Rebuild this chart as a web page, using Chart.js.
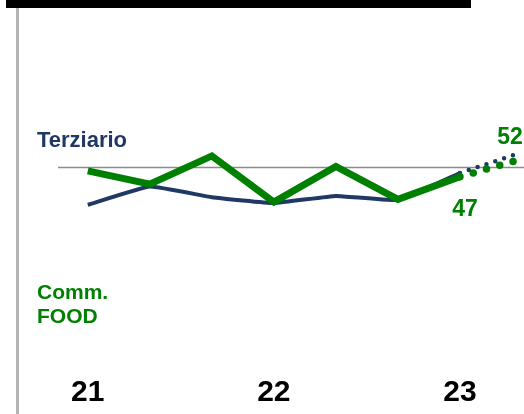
<!DOCTYPE html>
<html>
<head>
<meta charset="utf-8">
<script src="https://cdn.jsdelivr.net/npm/chart.js@4.4.1/dist/chart.umd.min.js"></script>
<style>
  html, body { margin: 0; padding: 0; background: #fff; }
  #wrap { position: relative; width: 524px; height: 414px; overflow: hidden; }
  #chart { position: absolute; left: 0; top: 0; }
  #topbar { position: absolute; left: 6px; top: 0; width: 465px; height: 8px; background: #000; }
  #leftline { position: absolute; left: 16px; top: 8px; width: 3px; height: 406px; background: #b4b4b4; }
</style>
</head>
<body>
<div id="wrap">
  <canvas id="chart" width="524" height="414"></canvas>
  <div id="topbar"></div>
  <div id="leftline"></div>
</div>
<script>
// periodi (quadrimestri): 0 = inizio 21, 3 = 22, 6 = 23
var periodi = [0, 1, 2, 3, 4, 5, 6];
var terziario = [37.9, 43.8, 40.4, 38.5, 40.8, 39.5, 48.2];
var commFood = [48.9, 44.6, 53.7, 38.8, 50.3, 39.7, 47];

// previsione (linea a puntini)
var periodiPrev = [6, 6.87];
var terziarioPrev = [48.2, 54];
var commFoodPrev = [47, 52];

// etichette asse x
var tickAnni = [0, 3, 6];
var etichetteAnni = ['21', '22', '23'];

var soglia = 50;

var BLU = '#1f3864';
var VERDE = '#008000';

function punti(xs, ys) {
  return xs.map(function (x, i) { return { x: x, y: ys[i] }; });
}

// linea di soglia e testi
var decorazioni = {
  id: 'decorazioni',
  beforeDatasetsDraw: function (chart) {
    var ctx = chart.ctx;
    var y = chart.scales.y.getPixelForValue(soglia);
    ctx.save();
    ctx.strokeStyle = '#8c8c8c';
    ctx.lineWidth = 1.5;
    ctx.beginPath();
    ctx.moveTo(chart.chartArea.left, y);
    ctx.lineTo(chart.width, y);
    ctx.stroke();
    ctx.restore();
  },
  afterDatasetsDraw: function (chart) {
    var ctx = chart.ctx;
    var sx = chart.scales.x, sy = chart.scales.y;
    ctx.save();
    ctx.textBaseline = 'alphabetic';
    ctx.textAlign = 'left';
    ctx.font = 'bold 22px "Liberation Sans", Arial, sans-serif';
    ctx.fillStyle = BLU;
    ctx.fillText('Terziario', 37, 147);
    ctx.font = 'bold 21px "Liberation Sans", Arial, sans-serif';
    ctx.fillStyle = VERDE;
    ctx.fillText('Comm.', 37, 299);
    ctx.fillText('FOOD', 37, 323);

    ctx.font = 'bold 23px "Liberation Sans", Arial, sans-serif';
    ctx.textAlign = 'center';
    var nUlt = commFood.length - 1;
    var xa = sx.getPixelForValue(periodi[nUlt]);
    var ya = sy.getPixelForValue(commFood[nUlt]);
    ctx.fillText(String(Math.round(commFood[nUlt])), xa + 5, ya + 39);
    var nPrev = commFoodPrev.length - 1;
    var xb = sx.getPixelForValue(periodiPrev[nPrev]);
    var yb = sy.getPixelForValue(commFoodPrev[nPrev]);
    ctx.fillText(String(Math.round(commFoodPrev[nPrev])), xb - 4, yb - 17);
    ctx.restore();
  }
};

new Chart(document.getElementById('chart').getContext('2d'), {
  type: 'line',
  data: {
    datasets: [
      {
        label: 'Comm. FOOD',
        data: punti(periodi, commFood),
        borderColor: VERDE,
        borderWidth: 7,
        borderJoinStyle: 'miter',
        tension: 0,
        pointRadius: 0
      },
      {
        label: 'Comm. FOOD prev',
        data: punti(periodiPrev, commFoodPrev),
        borderColor: VERDE,
        borderWidth: 7.5,
        borderDash: [0, 13.8],
        borderCapStyle: 'round',
        pointRadius: 0
      },
      {
        label: 'Terziario',
        data: punti(periodi, terziario),
        borderColor: BLU,
        borderWidth: 4,
        tension: 0.1,
        pointRadius: 0
      },
      {
        label: 'Terziario prev',
        data: punti(periodiPrev, terziarioPrev),
        borderColor: BLU,
        borderWidth: 4.5,
        borderDash: [0, 9.3],
        borderCapStyle: 'round',
        pointRadius: 0
      }
    ]
  },
  options: {
    responsive: false,
    animation: false,
    layout: { padding: { left: 58, right: 2, top: 0, bottom: 0 } },
    plugins: {
      legend: { display: false },
      tooltip: { enabled: false }
    },
    scales: {
      x: {
        type: 'linear',
        min: -0.48,
        max: 7,
        afterBuildTicks: function (axis) {
          axis.ticks = tickAnni.map(function (v) { return { value: v }; });
        },
        ticks: {
          autoSkip: false,
          maxRotation: 0,
          padding: 3,
          color: '#000',
          font: { family: '"Liberation Sans", Arial, sans-serif', size: 30, weight: 'bold' },
          callback: function (v) { return etichetteAnni[tickAnni.indexOf(v)]; }
        },
        grid: { display: false, drawTicks: false },
        border: { display: false }
      },
      y: {
        display: false,
        min: -16,
        max: 104
      }
    }
  },
  plugins: [decorazioni]
});
</script>
</body>
</html>
